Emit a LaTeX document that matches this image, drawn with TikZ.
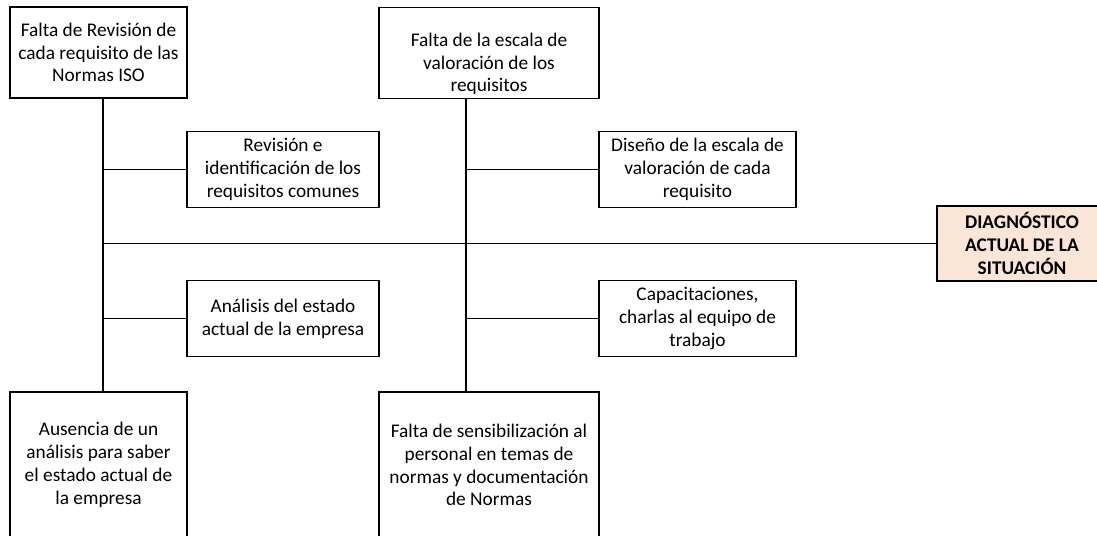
\documentclass[tikz,border=0pt]{standalone}
\usepackage{fontspec}
\setmainfont{Carlito}
\definecolor{durazno}{HTML}{FBE5D6}
\begin{document}
\begin{tikzpicture}[
    caja/.style={draw, line width=1pt, align=center, inner sep=2pt,
      font=\fontsize{11}{13}\selectfont},
    ancha/.style={caja, minimum width=4.4cm},
    angosta/.style={caja, minimum width=3.54cm},
    media/.style={caja, minimum width=3.9cm, minimum height=1.52cm}
  ]
  \useasboundingbox (0,0) rectangle (21.94,10.72);
  \draw
    (1.97,9.67) node[angosta, minimum height=1.82cm] (fRev)
      {Falta de Revisión de\\cada requisito de las\\Normas ISO}
    (9.78,9.66) node[ancha, minimum height=1.8cm] (fEsc)
      {\rule{0pt}{20pt}Falta de la escala de\\valoración de los\\requisitos}
    (5.66,7.33) node[media, minimum width=3.84cm] (revId)
      {Revisión e\\identificación de los\\requisitos comunes}
    (13.95,7.33) node[media, minimum width=3.94cm] (disEsc)
      {Diseño de la escala de\\valoración de cada\\requisito}
    (20.44,5.85) node[caja, fill=durazno, minimum width=3.4cm, minimum height=1.5cm,
      font=\fontsize{11}{13}\selectfont\bfseries] (diag)
      {DIAGNÓSTICO\\ACTUAL DE LA\\SITUACIÓN}
    (5.66,4.35) node[media, minimum width=3.84cm] (anaEst)
      {Análisis del estado\\actual de la empresa}
    (13.95,4.35) node[media, minimum width=3.94cm] (capac)
      {Capacitaciones,\\charlas al equipo de\\trabajo}
    (1.97,1.42) node[angosta, minimum height=2.92cm] (ausAna)
      {Ausencia de un\\análisis para saber\\el estado actual de\\la empresa}
    (9.78,1.42) node[ancha, minimum height=2.92cm] (fSen)
      {Falta de sensibilización al\\personal en temas de\\normas y documentación\\de Normas};
  \coordinate (jI) at (2.06,5.85);
  \coordinate (jD) at (9.32,5.85);
  \begin{scope}[line width=1pt]
    \draw (jI |- fRev.south) to (jI |- ausAna.north);
    \draw (jD |- fEsc.south) to (jD |- fSen.north);
    \draw (jI) to (diag.west);
    \draw (jI |- revId.west) to (revId.west);
    \draw (jI |- anaEst.west) to (anaEst.west);
    \draw (jD |- disEsc.west) to (disEsc.west);
    \draw (jD |- capac.west) to (capac.west);
  \end{scope}
\end{tikzpicture}
\end{document}
